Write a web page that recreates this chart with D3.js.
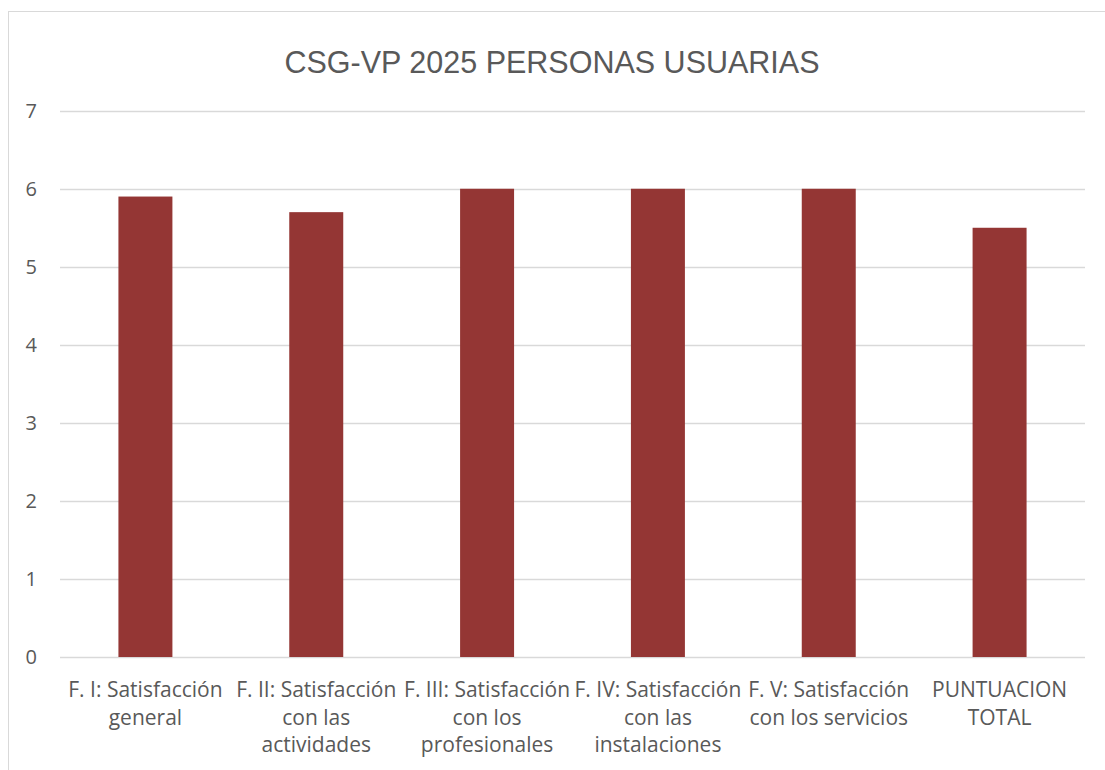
<!DOCTYPE html>
<html>
<head>
<meta charset="utf-8">
<script src="https://cdn.jsdelivr.net/npm/d3@7"></script>
<style>
  body { margin: 0; background: #fff; }
  svg { display: block; font-family: "Open Sans", "Liberation Sans", Arial, sans-serif; }
</style>
</head>
<body>
<svg id="chart" width="1105" height="770"></svg>
<script>
'use strict';

// Data
const title = 'CSG-VP 2025 PERSONAS USUARIAS';
const categories = ['FI', 'FII', 'FIII', 'FIV', 'FV', 'TOTAL'];
const categoryLabels = [
    ['F. I: Satisfacción', 'general'],
    ['F. II: Satisfacción', 'con las', 'actividades'],
    ['F. III: Satisfacción', 'con los', 'profesionales'],
    ['F. IV: Satisfacción', 'con las', 'instalaciones'],
    ['F. V: Satisfacción', 'con los servicios'],
    ['PUNTUACION', 'TOTAL']
];
const values = [5.9, 5.7, 6.0, 6.0, 6.0, 5.5];
const yTicks = [0, 1, 2, 3, 4, 5, 6, 7];

const svg = d3.select('#chart');

const plot = {left: 60, right: 1085, top: 110.7, bottom: 657};

// chart frame
svg.append('rect')
    .attr('x', 8.5).attr('y', 11.5)
    .attr('width', 1120).attr('height', 800)
    .attr('fill', 'none')
    .attr('stroke', '#d9d9d9')
    .attr('stroke-width', 1);

const x = d3.scaleBand()
    .domain(categories)
    .range([plot.left, plot.right])
    .paddingInner(0.684)
    .paddingOuter(0.342);

const y = d3.scaleLinear()
    .domain([0, 7])
    .range([plot.bottom, plot.top]);

// gridlines
svg.append('g')
    .selectAll('line')
    .data(yTicks)
    .join('line')
    .attr('x1', plot.left).attr('x2', plot.right)
    .attr('y1', d => Math.round(y(d)) + 0.5)
    .attr('y2', d => Math.round(y(d)) + 0.5)
    .attr('stroke', '#d9d9d9')
    .attr('stroke-width', 1.3);

// y axis labels
const yAxis = d3.axisLeft(y).tickValues(yTicks).tickFormat(d3.format('d')).tickSize(0).tickPadding(0);
svg.append('g')
    .attr('transform', `translate(37,0)`)
    .call(yAxis)
    .call(g => g.select('.domain').remove())
    .call(g => g.selectAll('text')
        .attr('fill', '#595959')
        .attr('font-size', '20px')
        .attr('font-family', '"Open Sans", "Liberation Sans", Arial, sans-serif'));

// bars
svg.append('g')
    .selectAll('rect')
    .data(values)
    .join('rect')
    .attr('x', (d, i) => x(categories[i]))
    .attr('width', x.bandwidth())
    .attr('y', d => y(d))
    .attr('height', d => y(0) - y(d))
    .attr('fill', '#943634');

// category labels
const labels = svg.append('g')
    .selectAll('text')
    .data(categoryLabels)
    .join('text')
    .attr('text-anchor', 'middle')
    .attr('fill', '#595959')
    .attr('font-size', '21px');

labels.each(function(lines, i) {
    const cx = x(categories[i]) + x.bandwidth() / 2;
    d3.select(this).selectAll('tspan')
        .data(lines)
        .join('tspan')
        .attr('x', cx)
        .attr('y', (d, j) => 697 + j * 27.5)
        .text(d => d);
});

// title
svg.append('text')
    .attr('x', 552)
    .attr('y', 73)
    .attr('text-anchor', 'middle')
    .attr('fill', '#595959')
    .attr('font-family', '"Liberation Sans", Arial, sans-serif')
    .attr('font-size', '30.5px')
    .text(title);
</script>
</body>
</html>
